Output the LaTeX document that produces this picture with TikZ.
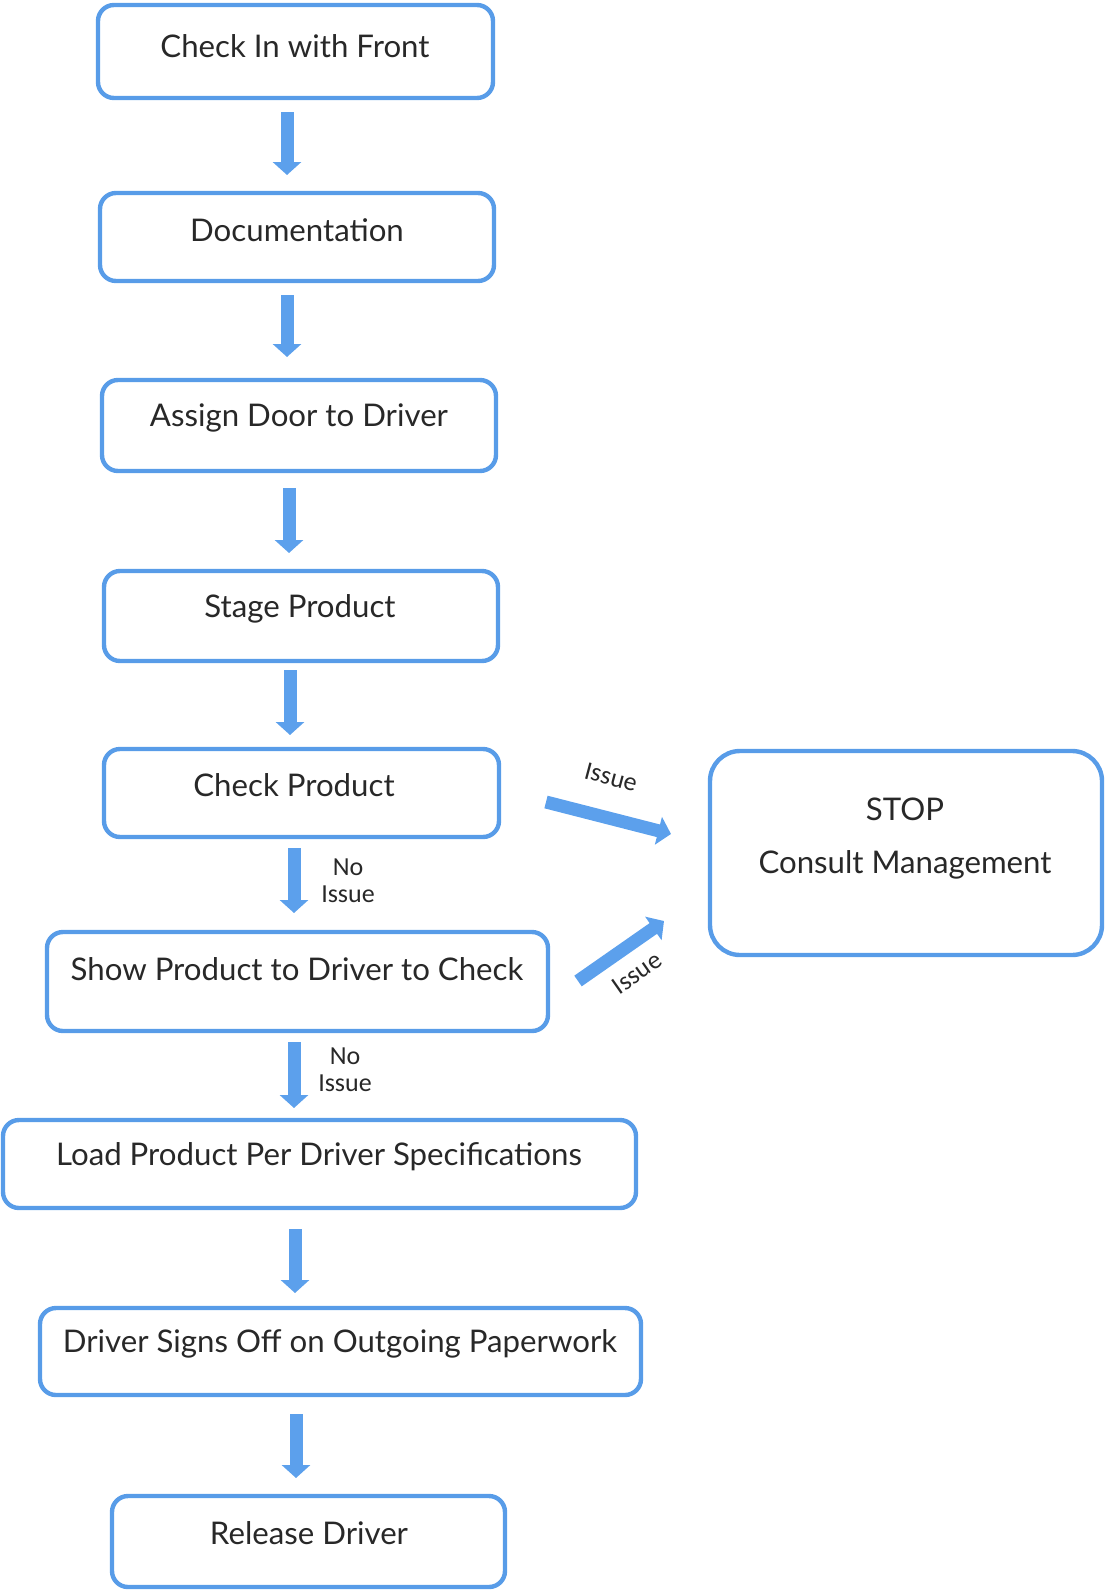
\documentclass[tikz,border=0pt]{standalone}
\usepackage{fontspec}
\setmainfont{Lato}
\newfontfamily\labelfont{Carlito}
\usetikzlibrary{arrows.meta}
\definecolor{boxblue}{RGB}{88,156,232}
\definecolor{arrblue}{RGB}{92,160,236}
\definecolor{txt}{RGB}{40,40,40}
\tikzset{
  stepbox/.style={draw=boxblue, line width=2.2pt, rounded corners=8pt},
  boxtext/.style={text=txt, font=\fontsize{15.6}{18}\selectfont},
  flowarrow/.style={draw=arrblue, line width=6.5pt, -{Triangle[length=6.5pt,width=14pt]}},
  lbl/.style={text=txt, font=\labelfont\fontsize{13}{13.5}\selectfont, align=center, inner sep=1pt},
}
\begin{document}
\begin{tikzpicture}[x=0.5pt,y=-0.5pt]
\useasboundingbox (0,0) rectangle (1106,1590);
% boxes
\node[stepbox, minimum width=197.5pt, minimum height=46.5pt] (b1) at (295.5,51.5) {};
\node[boxtext] (t1) at (295,46) {Check In with Front};
\node[stepbox, minimum width=197pt, minimum height=44pt] (b2) at (297,237) {};
\node[boxtext] (t2) at (297,230) {Documentation};
\node[stepbox, minimum width=197pt, minimum height=45.5pt] (b3) at (299,425.5) {};
\node[boxtext] (t3) at (299,418) {Assign Door to Driver};
\node[stepbox, minimum width=197pt, minimum height=45pt] (b4) at (301,616) {};
\node[boxtext] (t4) at (300,609) {Stage Product};
\node[stepbox, minimum width=197.5pt, minimum height=44pt] (b5) at (301.5,793) {};
\node[boxtext] (t5) at (294,785) {Check Product};
\node[stepbox, minimum width=250.5pt, minimum height=49.5pt] (b6) at (297.5,981.5) {};
\node[boxtext] (t6) at (297,969) {Show Product to Driver to Check};
\node[stepbox, minimum width=316.5pt, minimum height=44pt] (b7) at (319.5,1164) {};
\node[boxtext] (t7) at (319,1157) {Load Product Per Driver Specifications};
\node[stepbox, minimum width=300.5pt, minimum height=43.5pt] (b8) at (340.5,1351.5) {};
\node[boxtext] (t8) at (340,1344) {Driver Signs Off on Outgoing Paperwork};
\node[stepbox, minimum width=196.5pt, minimum height=45.5pt] (b9) at (308.5,1541.5) {};
\node[boxtext] (t9) at (309,1533) {Release Driver};
\node[stepbox, rounded corners=15pt, minimum width=196pt, minimum height=102pt] (stop) at (906,853) {};
\node[boxtext] (t10) at (905,809) {STOP};
\node[boxtext] (t11) at (905,865) {Consult Management};
% vertical arrows
\coordinate (a1s) at (287,112); \coordinate (a1e) at (287,175);
\coordinate (a2s) at (287,295); \coordinate (a2e) at (287,357);
\coordinate (a3s) at (289,488); \coordinate (a3e) at (289,553);
\coordinate (a4s) at (290,670); \coordinate (a4e) at (290,735);
\coordinate (a5s) at (294,848); \coordinate (a5e) at (294,913);
\coordinate (a6s) at (294,1042); \coordinate (a6e) at (294,1108);
\coordinate (a7s) at (295,1229); \coordinate (a7e) at (295,1293);
\coordinate (a8s) at (296,1414); \coordinate (a8e) at (296,1478);
\draw[flowarrow] (a1s) -- (a1e);
\draw[flowarrow] (a2s) -- (a2e);
\draw[flowarrow] (a3s) -- (a3e);
\draw[flowarrow] (a4s) -- (a4e);
\draw[flowarrow] (a5s) -- (a5e);
\draw[flowarrow] (a6s) -- (a6e);
\draw[flowarrow] (a7s) -- (a7e);
\draw[flowarrow] (a8s) -- (a8e);
% diagonal arrows
\coordinate (d1s) at (546,802); \coordinate (d1e) at (671,834);
\coordinate (d2s) at (578,981); \coordinate (d2e) at (664,921);
\draw[flowarrow] (d1s) -- (d1e);
\draw[flowarrow] (d2s) -- (d2e);
% labels
\node[lbl] (n1) at (348,881) {No\\Issue};
\node[lbl] (n2) at (345,1070) {No\\Issue};
\node[lbl, rotate=-15] (i1) at (611,777) {Issue};
\node[lbl, rotate=35] (i2) at (637,973) {Issue};
\end{tikzpicture}
\end{document}
